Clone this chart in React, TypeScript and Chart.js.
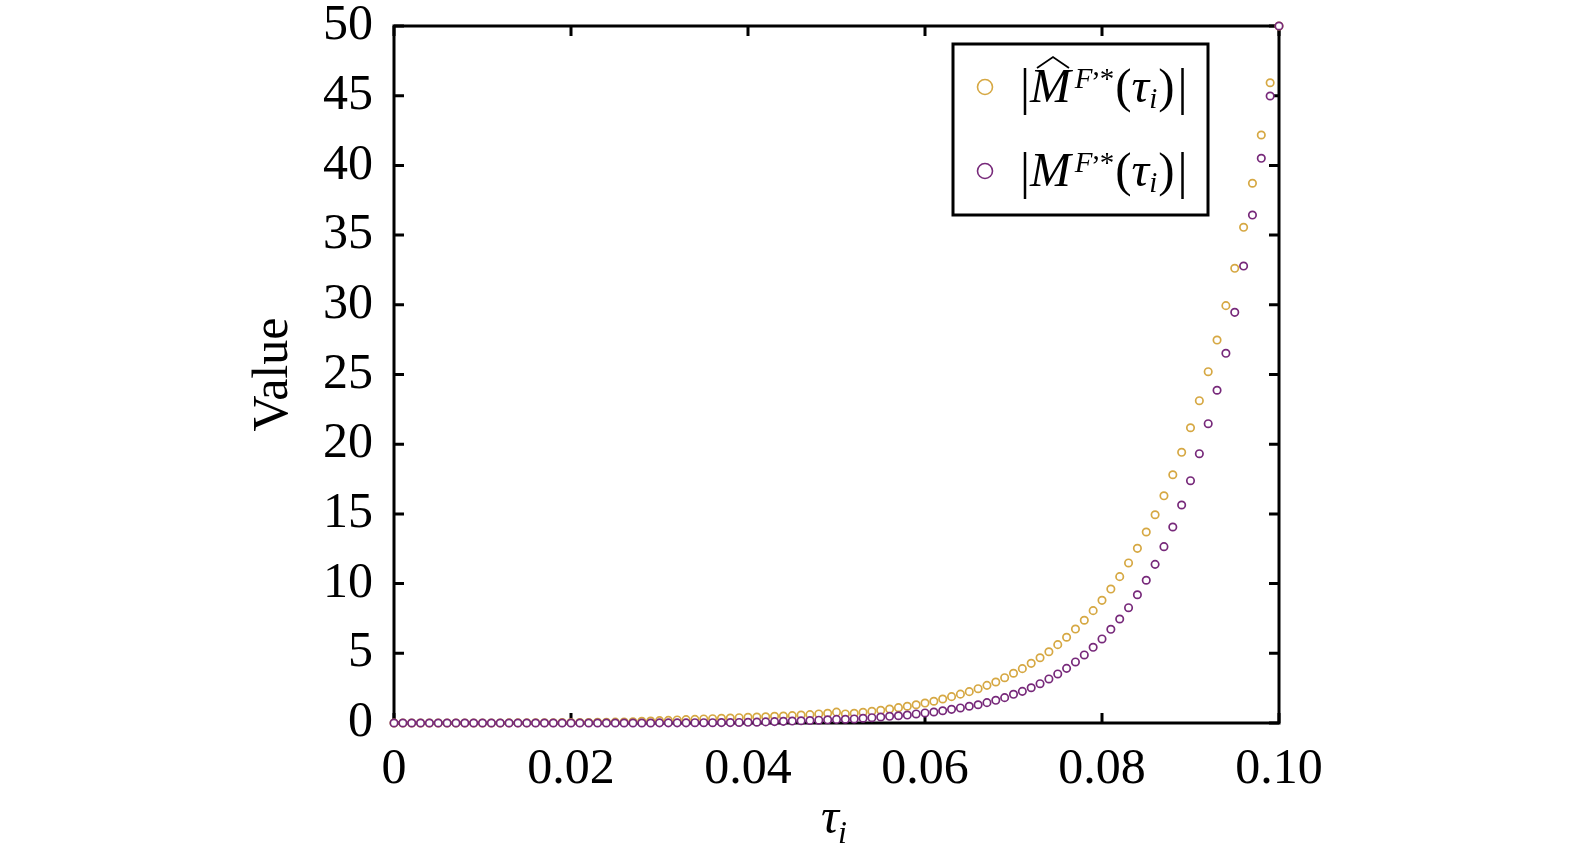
import { useEffect, useRef } from "react"
import { Chart, registerables } from "chart.js"

Chart.register(...registerables)

const SERIF = "'Liberation Serif', 'Times New Roman', serif"

// tau_i grid
const tau = [
  0, 0.001, 0.002, 0.003, 0.004, 0.005, 0.006, 0.007, 0.008, 0.009,
  0.01, 0.011, 0.012, 0.013, 0.014, 0.015, 0.016, 0.017, 0.018, 0.019,
  0.02, 0.021, 0.022, 0.023, 0.024, 0.025, 0.026, 0.027, 0.028, 0.029,
  0.03, 0.031, 0.032, 0.033, 0.034, 0.035, 0.036, 0.037, 0.038, 0.039,
  0.04, 0.041, 0.042, 0.043, 0.044, 0.045, 0.046, 0.047, 0.048, 0.049,
  0.05, 0.051, 0.052, 0.053, 0.054, 0.055, 0.056, 0.057, 0.058, 0.059,
  0.06, 0.061, 0.062, 0.063, 0.064, 0.065, 0.066, 0.067, 0.068, 0.069,
  0.07, 0.071, 0.072, 0.073, 0.074, 0.075, 0.076, 0.077, 0.078, 0.079,
  0.08, 0.081, 0.082, 0.083, 0.084, 0.085, 0.086, 0.087, 0.088, 0.089,
  0.09, 0.091, 0.092, 0.093, 0.094, 0.095, 0.096, 0.097, 0.098, 0.099,
  0.1,
]

// |M^hat F,*(tau_i)|
const mHat = [
  0, 0, 0, 0, 0, 0, 0, 0, 0, 0,
  0, 0, 0, 0.01, 0.01, 0.01, 0.02, 0.02, 0.02, 0.03,
  0.03, 0.03, 0.04, 0.05, 0.05, 0.06, 0.07, 0.09, 0.12, 0.14,
  0.17, 0.19, 0.22, 0.24, 0.26, 0.29, 0.31, 0.34, 0.36, 0.38,
  0.41, 0.43, 0.45, 0.48, 0.5, 0.53, 0.57, 0.6, 0.65, 0.7,
  0.78, 0.65, 0.7, 0.77, 0.84, 0.91, 1.0, 1.1, 1.2, 1.31,
  1.43, 1.56, 1.72, 1.89, 2.07, 2.25, 2.46, 2.7, 2.94, 3.25,
  3.57, 3.9, 4.28, 4.68, 5.11, 5.62, 6.15, 6.74, 7.37, 8.06,
  8.8, 9.61, 10.5, 11.48, 12.53, 13.7, 14.94, 16.3, 17.81, 19.42,
  21.18, 23.12, 25.2, 27.47, 29.94, 32.62, 35.56, 38.72, 42.18, 45.93,
  50,
]

// |M F,*(tau_i)|
const mExact = [
  0, 0, 0, 0, 0, 0, 0, 0, 0, 0,
  0, 0, 0, 0, 0, 0, 0, 0, 0, 0,
  0, 0, 0, 0, 0, 0, 0, 0, 0, 0,
  0.01, 0.01, 0.01, 0.01, 0.02, 0.02, 0.02, 0.03, 0.03, 0.04,
  0.05, 0.06, 0.08, 0.1, 0.12, 0.14, 0.16, 0.18, 0.2, 0.23,
  0.26, 0.27, 0.29, 0.34, 0.38, 0.43, 0.48, 0.52, 0.57, 0.65,
  0.72, 0.79, 0.88, 0.98, 1.08, 1.2, 1.31, 1.46, 1.63, 1.82,
  2.06, 2.27, 2.53, 2.82, 3.16, 3.52, 3.92, 4.38, 4.88, 5.43,
  6.03, 6.72, 7.46, 8.27, 9.2, 10.24, 11.38, 12.65, 14.06, 15.64,
  17.38, 19.32, 21.47, 23.87, 26.52, 29.46, 32.78, 36.44, 40.51, 44.98,
  50,
]

const xTickValues = [0, 0.02, 0.04, 0.06, 0.08, 0.1]
const xTickLabels = ["0", "0.02", "0.04", "0.06", "0.08", "0.10"]
const yTickValues = [0, 5, 10, 15, 20, 25, 30, 35, 40, 45, 50]
const yTickLabels = ["0", "5", "10", "15", "20", "25", "30", "35", "40", "45", "50"]

const ORANGE = "#D6A843"
const PURPLE = "#77297A"

// frame with inward ticks, drawn under the points
const framePlugin = {
  id: "frame",
  beforeDatasetsDraw(chart: any) {
    const { ctx, chartArea: a, scales } = chart
    const len = 10
    ctx.save()
    ctx.strokeStyle = "#000"
    ctx.lineWidth = 3
    ctx.beginPath()
    for (const v of xTickValues) {
      const px = scales.x.getPixelForValue(v)
      ctx.moveTo(px, a.bottom)
      ctx.lineTo(px, a.bottom - len)
      ctx.moveTo(px, a.top)
      ctx.lineTo(px, a.top + len)
    }
    for (const v of yTickValues) {
      const py = scales.y.getPixelForValue(v)
      ctx.moveTo(a.left, py)
      ctx.lineTo(a.left + len, py)
      ctx.moveTo(a.right, py)
      ctx.lineTo(a.right - len, py)
    }
    ctx.stroke()
    ctx.strokeRect(a.left, a.top, a.right - a.left, a.bottom - a.top)
    ctx.restore()
  },
}

function drawMathLabel(ctx: CanvasRenderingContext2D, x0: number, base: number, hat: boolean) {
  const big = 49
  const small = 29
  const bar = (x: number) => {
    ctx.beginPath()
    ctx.moveTo(x, base - 34)
    ctx.lineTo(x, base + 13)
    ctx.stroke()
  }
  ctx.fillStyle = "#000"
  ctx.strokeStyle = "#000"
  ctx.lineWidth = 2.5
  ctx.textAlign = "left"
  ctx.textBaseline = "alphabetic"
  bar(x0 + 2)
  let x = x0 + 7
  ctx.font = `italic ${big}px ${SERIF}`
  ctx.fillText("M", x, base)
  if (hat) {
    ctx.save()
    ctx.lineWidth = 1.8
    ctx.beginPath()
    ctx.moveTo(x + 7, base - 34)
    ctx.lineTo(x + 23, base - 45)
    ctx.lineTo(x + 39, base - 34)
    ctx.stroke()
    ctx.restore()
  }
  x += ctx.measureText("M").width + 4
  ctx.font = `italic ${small}px ${SERIF}`
  ctx.fillText("F", x, base - 14)
  x += ctx.measureText("F").width
  ctx.font = `${small}px ${SERIF}`
  ctx.fillText(",", x, base - 27)
  x += ctx.measureText(",").width
  ctx.fillText("*", x, base - 14)
  x += ctx.measureText("*").width + 1
  ctx.font = `${big}px ${SERIF}`
  ctx.fillText("(", x, base)
  x += ctx.measureText("(").width
  ctx.font = `italic ${big}px ${SERIF}`
  ctx.fillText("τ", x, base)
  x += ctx.measureText("τ").width
  ctx.font = `italic ${small}px ${SERIF}`
  ctx.fillText("i", x, base + 6)
  x += ctx.measureText("i").width + 1
  ctx.font = `${big}px ${SERIF}`
  ctx.fillText(")", x, base)
  x += ctx.measureText(")").width + 8
  bar(x)
}

// legend box and x-axis title (need sub/superscripts)
const annotPlugin = {
  id: "annot",
  afterDraw(chart: any) {
    const { ctx } = chart
    ctx.save()
    const box = { x: 953, y: 44, w: 255, h: 171 }
    ctx.fillStyle = "#fff"
    ctx.fillRect(box.x, box.y, box.w, box.h)
    ctx.strokeStyle = "#000"
    ctx.lineWidth = 3
    ctx.strokeRect(box.x, box.y, box.w, box.h)
    const rows = [
      { color: ORANGE, hat: true, base: box.y + 58 },
      { color: PURPLE, hat: false, base: box.y + 142 },
    ]
    for (const r of rows) {
      ctx.strokeStyle = r.color
      ctx.lineWidth = 1.6
      ctx.beginPath()
      ctx.arc(box.x + 32, r.base - 15, 7.5, 0, Math.PI * 2)
      ctx.stroke()
      drawMathLabel(ctx, box.x + 70, r.base, r.hat)
    }
    // x title: tau_i
    ctx.fillStyle = "#000"
    ctx.textAlign = "left"
    ctx.textBaseline = "alphabetic"
    ctx.font = `italic 50px ${SERIF}`
    const tx = 821
    ctx.fillText("τ", tx, 833)
    const tw = ctx.measureText("τ").width
    ctx.font = `italic 32px ${SERIF}`
    ctx.fillText("i", tx + tw - 1, 843)
    ctx.restore()
  },
}

export default function App() {
  const chartRef = useRef<HTMLCanvasElement>(null)

  useEffect(() => {
    document.body.style.margin = "0"
    if (!chartRef.current) return

    const chart = new Chart(chartRef.current, {
      type: "scatter",
      data: {
        datasets: [
          {
            label: "|M^F,*(τi)|",
            data: tau.map((t, i) => ({ x: t, y: mExact[i] })),
            borderColor: PURPLE,
            backgroundColor: "#fff",
            pointRadius: 3.7,
            pointHoverRadius: 3.7,
            borderWidth: 1.7,
            clip: false,
            order: 0,
          },
          {
            label: "|M̂^F,*(τi)|",
            data: tau.map((t, i) => ({ x: t, y: mHat[i] })),
            borderColor: ORANGE,
            backgroundColor: "#fff",
            pointRadius: 3.7,
            pointHoverRadius: 3.7,
            borderWidth: 1.7,
            clip: false,
            order: 1,
          },
        ],
      },
      options: {
        animation: false,
        responsive: true,
        maintainAspectRatio: false,
        layout: { padding: { left: 240, right: 296, top: 26, bottom: 0 } },
        plugins: {
          legend: { display: false },
          tooltip: { enabled: false },
        },
        scales: {
          x: {
            type: "linear",
            min: 0,
            max: 0.1,
            grid: { display: false, drawTicks: false },
            border: { display: false },
            afterBuildTicks: (s: any) => {
              s.ticks = xTickValues.map((v) => ({ value: v }))
            },
            afterFit: (s: any) => {
              s.height = 138
              s.paddingLeft = 0
              s.paddingRight = 0
            },
            ticks: {
              padding: 22,
              color: "#000",
              maxRotation: 0,
              autoSkip: false,
              font: { family: SERIF, size: 50, lineHeight: 1 },
              callback: (_v: any, i: number) => xTickLabels[i],
            },
          },
          y: {
            min: 0,
            max: 50,
            grid: { display: false, drawTicks: false },
            border: { display: false },
            afterBuildTicks: (s: any) => {
              s.ticks = yTickValues.map((v) => ({ value: v }))
            },
            afterFit: (s: any) => {
              s.width = 154
              s.paddingTop = 0
              s.paddingBottom = 0
            },
            ticks: {
              padding: 21,
              color: "#000",
              autoSkip: false,
              font: { family: SERIF, size: 50, lineHeight: 1 },
              callback: (_v: any, i: number) => yTickLabels[i],
            },
            title: {
              display: true,
              text: "Value",
              color: "#000",
              font: { family: SERIF, size: 50, lineHeight: 1 },
              padding: { top: 9, bottom: 0 },
            },
          },
        },
      },
      plugins: [framePlugin, annotPlugin],
    })

    return () => {
      chart.destroy()
    }
  }, [])

  return (
    <div style={{ width: 1575, height: 861, position: "relative" }}>
      <canvas ref={chartRef} />
    </div>
  )
}
